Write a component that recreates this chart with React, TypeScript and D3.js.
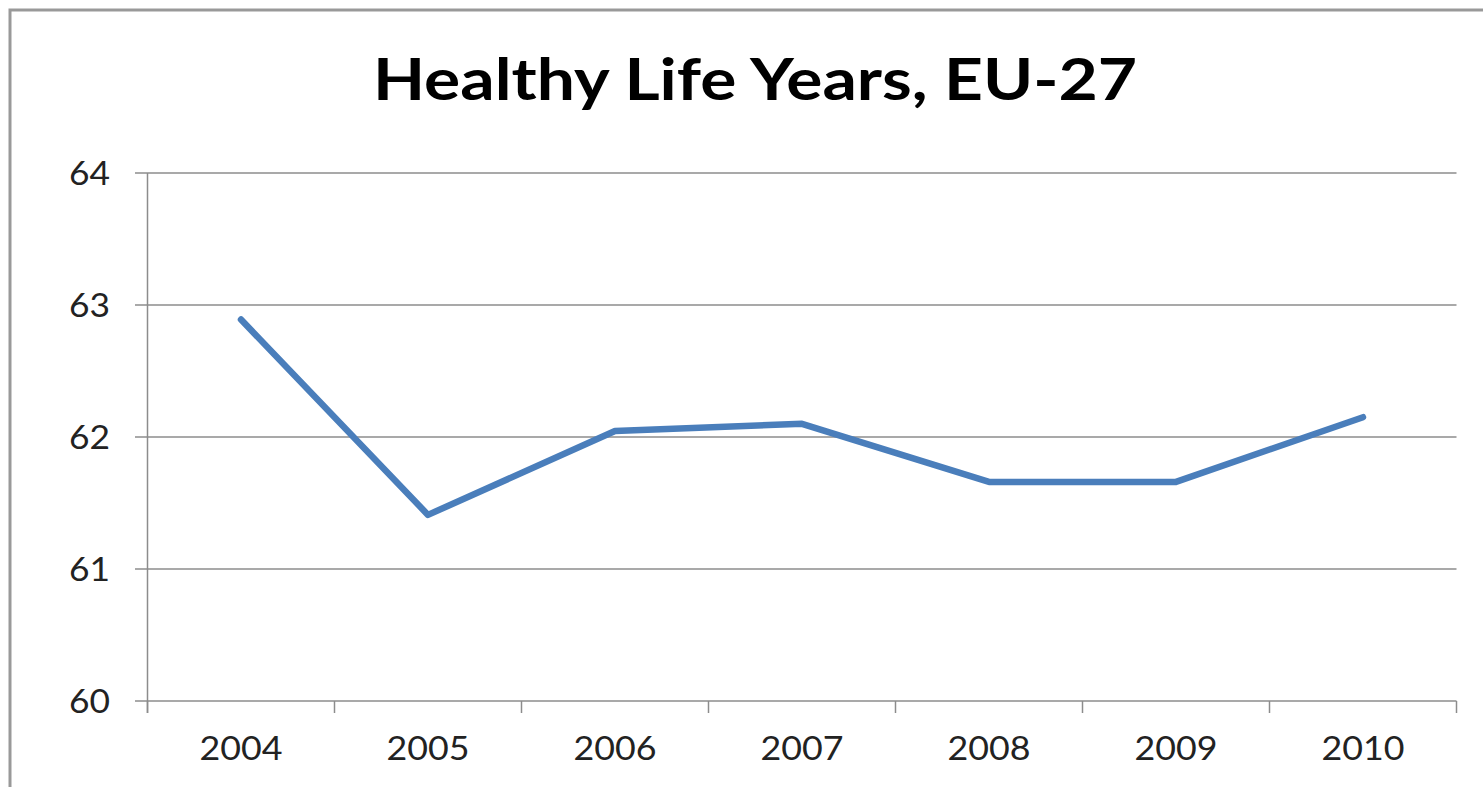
import React from "react";
import * as d3 from "d3";

const years = ["2004", "2005", "2006", "2007", "2008", "2009", "2010"];
const values = [62.89, 61.41, 62.045, 62.1, 61.66, 61.66, 62.15];
const yTicks = [60, 61, 62, 63, 64];
const title = "Healthy Life Years, EU-27";

const W = 1483;
const H = 787;
const left = 147.5;
const right = 1456.5;
const top = 173;
const bottom = 701;
const FONT = "Lato, 'Open Sans', sans-serif";

export default function App() {
  const x = d3.scaleBand<string>().domain(years).range([left, right]).padding(0);
  const y = d3.scaleLinear().domain([60, 64]).range([bottom, top]);
  const line = d3
    .line<number>()
    .x((_, i) => (x(years[i]) as number) + x.bandwidth() / 2)
    .y((d) => y(d));
  const tickXs = [...years.map((yr) => x(yr) as number), right];
  return (
    <svg
      width={W}
      height={H}
      style={{ position: "fixed", left: 0, top: 0, background: "#fff" }}
    >
      <rect x={10} y={10} width={W} height={H} fill="#fff" stroke="#999" strokeWidth={3} />
      <text
        x={755}
        y={100}
        textAnchor="middle"
        fontFamily={FONT}
        fontWeight="bold"
        fontSize={58}
        fill="#000"
        textLength={764}
        lengthAdjust="spacingAndGlyphs"
      >
        {title}
      </text>
      {yTicks.map((t) => (
        <g key={t}>
          <line x1={135} x2={right} y1={y(t)} y2={y(t)} stroke="#8c8c8c" strokeWidth={1.5} />
          <text
            x={110}
            y={y(t) + 11.5}
            textAnchor="end"
            fontFamily={FONT}
            fontSize={32}
            fill="#222"
            textLength={41}
            lengthAdjust="spacingAndGlyphs"
          >
            {t}
          </text>
        </g>
      ))}
      <line x1={left} x2={left} y1={top} y2={bottom + 12} stroke="#8c8c8c" strokeWidth={1.5} />
      {tickXs.map((tx, i) => (
        <line key={i} x1={tx} x2={tx} y1={bottom} y2={bottom + 12} stroke="#8c8c8c" strokeWidth={1.5} />
      ))}
      {years.map((yr) => (
        <text
          key={yr}
          x={(x(yr) as number) + x.bandwidth() / 2}
          y={760}
          textAnchor="middle"
          fontFamily={FONT}
          fontSize={32}
          fill="#222"
          textLength={83}
          lengthAdjust="spacingAndGlyphs"
        >
          {yr}
        </text>
      ))}
      <path
        d={line(values) || ""}
        fill="none"
        stroke="#4a7ebb"
        strokeWidth={6.5}
        strokeLinejoin="round"
        strokeLinecap="round"
      />
    </svg>
  );
}
